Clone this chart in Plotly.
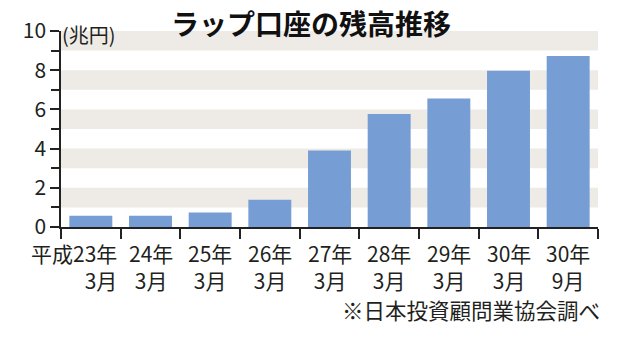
import plotly.graph_objects as go

categories = ["平成23年3月", "24年3月", "25年3月", "26年3月", "27年3月",
              "28年3月", "29年3月", "30年3月", "30年9月"]
values = [0.58, 0.58, 0.74, 1.39, 3.90, 5.77, 6.56, 7.97, 8.73]
label_line1 = ["平成23年", "24年", "25年", "26年", "27年", "28年", "29年", "30年", "30年"]
label_line2 = ["3月", "3月", "3月", "3月", "3月", "3月", "3月", "3月", "9月"]
band_ranges = [(1, 2), (3, 4), (5, 6), (7, 8), (9, 10)]
y_tickvals = [0, 2, 4, 6, 8, 10]

TEXT = "#231f20"
FONT = "Noto Sans CJK JP"

L, R, T, B = 61, 42, 31, 114
W, H = 640, 341
pw, ph = W - L - R, H - T - B

fig = go.Figure(go.Bar(
    x=categories, y=values,
    marker=dict(color="#779ed4", line=dict(width=0)),
    width=0.72,
))

shapes = [dict(type="rect", xref="paper", yref="y", x0=0, x1=1, y0=a, y1=b,
               fillcolor="#eeebe6", line=dict(width=0), layer="below")
          for a, b in band_ranges]

label_y = (H - B - 266) / ph
annotations = []
for i, (l1, l2) in enumerate(zip(label_line1, label_line2)):
    first = i == 0
    annotations.append(dict(x=i, xref="x", y=label_y, yref="paper",
                            text=f"{l1}<br>{l2}", showarrow=False,
                            align="right" if first else "center",
                            xanchor="right" if first else "center",
                            yanchor="middle", xshift=27 if first else 0,
                            borderpad=0,
                            font=dict(size=21, color=TEXT, family=FONT)))

annotations += [
    dict(x=0.0, xref="paper", y=10, yref="y", text="(兆円)", showarrow=False,
         xanchor="left", yanchor="middle", yshift=-3, borderpad=0,
         font=dict(size=20, color=TEXT, family=FONT)),
    dict(x=(311 - L) / pw, xref="paper", y=(H - B - 23) / ph, yref="paper",
         text="<b>ラップ口座の残高推移</b>", borderpad=0,
         showarrow=False, xanchor="center", yanchor="middle",
         font=dict(size=28, color="#111111", family=FONT)),
    dict(x=(471 - L) / pw, xref="paper", y=(H - B - 309) / ph, yref="paper",
         text="※日本投資顧問業協会調べ", borderpad=0,
         showarrow=False, xanchor="center", yanchor="middle",
         font=dict(size=21.5, color=TEXT, family=FONT)),
]

fig.update_layout(
    width=W, height=H,
    margin=dict(l=L, r=R, t=T, b=B, pad=0),
    paper_bgcolor="white", plot_bgcolor="white",
    showlegend=False, bargap=0.28,
    shapes=shapes, annotations=annotations,
    font=dict(family=FONT, color=TEXT),
    xaxis=dict(type="category", range=[-0.5, len(categories) - 0.5],
               showticklabels=False, ticks="outside", tickson="boundaries",
               ticklen=10, tickcolor="#222", tickwidth=1.5,
               showline=True, linecolor="#222", linewidth=1.5,
               showgrid=False, zeroline=False, fixedrange=True),
    yaxis=dict(range=[0, 10], tickvals=y_tickvals, ticks="outside", ticklen=9,
               tickcolor="#222", tickwidth=1.5,
               showline=True, linecolor="#222", linewidth=1.5,
               showgrid=False, zeroline=False,
               tickfont=dict(size=21, color=TEXT, family=FONT),
               minor=dict(dtick=1, ticks="outside", ticklen=8, tickcolor="#222",
                          tickwidth=1.5, showgrid=False),
               fixedrange=True),
)

fig.write_html("out.html")
